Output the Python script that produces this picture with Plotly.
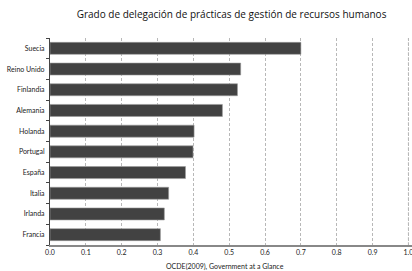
import plotly.graph_objects as go

paises = ["Suecia", "Reino Unido", "Finlandia", "Alemania", "Holanda",
          "Portugal", "España", "Italia", "Irlanda", "Francia"]
valores = [0.70, 0.532, 0.523, 0.481, 0.402, 0.399, 0.378, 0.331, 0.319, 0.308]
ticks_x = [0.0, 0.1, 0.2, 0.3, 0.4, 0.5, 0.6, 0.7, 0.8, 0.9, 1.0]
tick_labels_x = ["0.0", "0.1", "0.2", "0.3", "0.4", "0.5", "0.6", "0.7", "0.8", "0.9", "1.0"]
titulo = "Grado de delegación de prácticas de gestión de recursos humanos"
fuente = "OCDE(2009), Government at a Glance"

fig = go.Figure(go.Bar(
    x=valores, y=paises, orientation="h",
    marker=dict(color="#424242", line=dict(color="#9a9a9a", width=0.6)),
    width=0.58,
))

fig.update_layout(
    width=412, height=271,
    margin=dict(l=50, r=0, t=38, b=26),
    paper_bgcolor="white", plot_bgcolor="white",
    showlegend=False,
    font=dict(family="Lato, sans-serif", size=7, color="#222"),
    title=dict(text=titulo, x=0.562, xanchor="center", y=0.945, yanchor="middle",
               font=dict(family="Open Sans, sans-serif", size=10, color="#111")),
    annotations=[dict(text=fuente, xref="paper", yref="paper", x=0.483, y=-0.105,
                      xanchor="center", yanchor="middle", showarrow=False,
                      font=dict(size=7, color="#222"))],
)
fig.update_xaxes(range=[0, 1.01], tickvals=ticks_x, ticktext=tick_labels_x,
                 showgrid=True, gridcolor="#b8b8b8", griddash="3px,2px", gridwidth=0.8,
                 showline=True, linecolor="#888", linewidth=1.5,
                 ticks="", zeroline=False, tickfont=dict(size=7),
                 ticklabeloverflow="allow")
fig.update_yaxes(categoryorder="array", categoryarray=paises[::-1],
                 autorange=True, showline=True, linecolor="#444", linewidth=1,
                 ticks="outside", tickson="boundaries", ticklen=3, tickcolor="#444",
                 ticklabelstandoff=3, showgrid=False, tickfont=dict(size=7))
# gridline at the last tick (hidden by plotly at the plot edge)
fig.add_vline(x=ticks_x[-1], line=dict(color="#b8b8b8", dash="3px,2px", width=0.8),
              layer="below")

fig.write_html("out.html", config={"displayModeBar": False},
               post_script="document.body.style.margin='0';document.body.style.overflow='hidden';")
